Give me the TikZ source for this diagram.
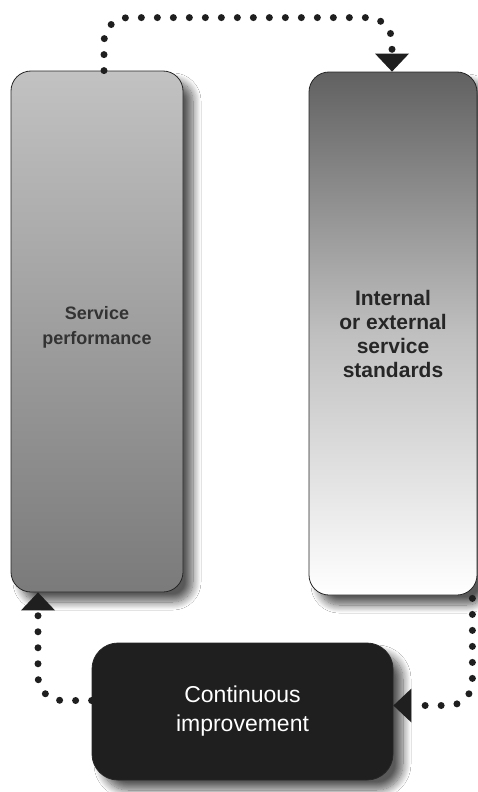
\documentclass[tikz,border=0pt]{standalone}
\usepackage{fontspec}
\setsansfont{Liberation Sans}
\usetikzlibrary{arrows.meta,shadows.blur}

\tikzset{
  panel/.style={rounded corners=20pt, draw=black!85, line width=0.8pt, inner sep=0pt, align=center,
    blur shadow={shadow xshift=10pt, shadow yshift=-10pt, shadow blur steps=12, shadow blur radius=8pt, shadow opacity=65}},
  dotline/.style={draw=black!88, line width=7pt, line cap=round, dash pattern=on 0pt off 16pt,
    rounded corners=24pt, -{Triangle[length=18pt,width=34pt,line width=0pt]}}
}

\begin{document}
\begin{tikzpicture}[x=1pt,y=-1pt]
 \useasboundingbox[fill=white] (0,0) rectangle (477,792);
 \node[panel, minimum width=172pt, minimum height=521pt, top color=black!24, bottom color=black!52,
   text=black!80, font=\sffamily\bfseries\fontsize{18}{25}\selectfont] (perf) at (97,331.5) {Service\\performance\\[-13pt]};
 \node[panel, minimum width=168pt, minimum height=523pt, top color=black!62, bottom color=white, middle color=black!25,
   text=black!85, font=\sffamily\bfseries\fontsize{21}{24}\selectfont] (std) at (393,333.5) {Internal\\or external\\service\\standards};
 \node[panel, rounded corners=26pt, minimum width=301pt, minimum height=137pt, fill=black!88,
   text=white, font=\sffamily\fontsize{23}{29}\selectfont] (imp) at (242.5,711.5) {Continuous\\improvement};
 \draw[dotline] ([xshift=7pt]perf.north) -- ++(0,-53) -| ([xshift=-1pt]std.north);
 \draw[dotline] ([yshift=11pt]imp.west) -| ([xshift=-59pt]perf.south);
 \draw[dotline] ([xshift=-5pt,yshift=-3pt]std.south east) |- ([yshift=6pt]imp.east);
\end{tikzpicture}
\end{document}
